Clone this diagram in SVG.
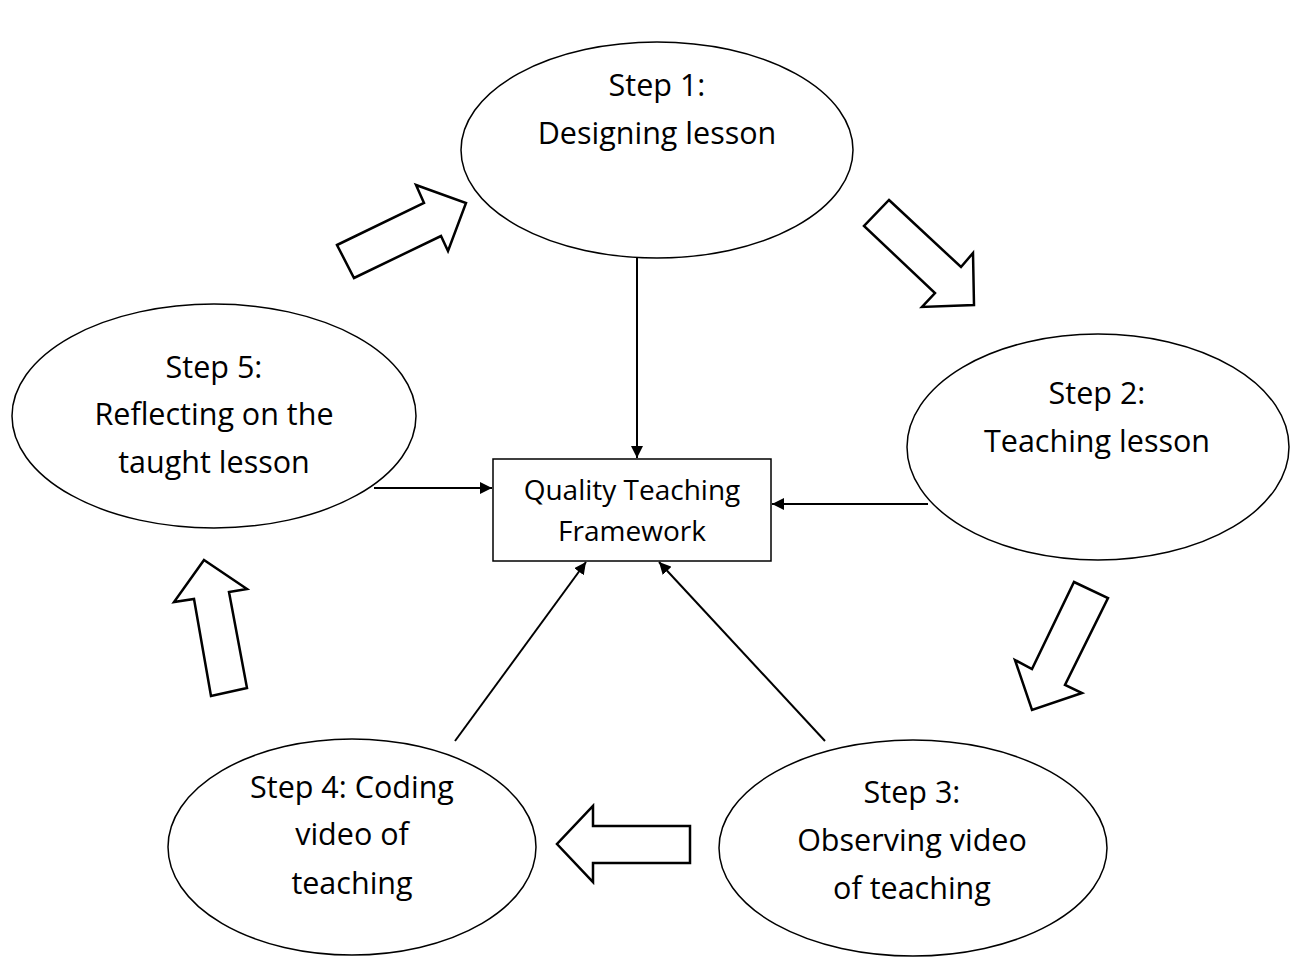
<svg xmlns="http://www.w3.org/2000/svg" width="1292" height="959" viewBox="0 0 1292 959">
  <style>
    .node { fill: #ffffff; stroke: #000000; stroke-width: 1.5; }
    .label { font-family: "Open Sans", "Liberation Sans", sans-serif; font-size: 30.5px; fill: #000000; text-anchor: middle; }
    .box-label { font-family: "Open Sans", "Liberation Sans", sans-serif; font-size: 28px; fill: #000000; text-anchor: middle; }
    .link { stroke: #000000; stroke-width: 2; fill: none; marker-end: url(#head); }
    .flow { fill: #ffffff; stroke: #000000; stroke-width: 2.5; stroke-linejoin: miter; }
  </style>
  <defs>
    <marker id="head" viewBox="0 0 10 10" refX="10" refY="5" markerWidth="6" markerHeight="6" orient="auto" markerUnits="strokeWidth">
      <path d="M0,0 L10,5 L0,10 z" fill="#000000"/>
    </marker>
  </defs>
  <rect width="1292" height="959" fill="#ffffff"/>

  <!-- connectors into the framework box -->
  <g id="connectors">
    <line class="link" x1="637" y1="258" x2="637" y2="458"/>
    <line class="link" x1="374" y1="488" x2="492" y2="488"/>
    <line class="link" x1="928" y1="504" x2="772" y2="504"/>
    <line class="link" x1="455" y1="741" x2="586" y2="562"/>
    <line class="link" x1="825" y1="741" x2="659" y2="562"/>
  </g>

  <!-- cycle block arrows between steps -->
  <g id="cycle-arrows">
    <polygon class="flow" points="337,245 424,203 416,185 466,203 448,251 441,236 354,278"/>
    <polygon class="flow" points="889,200 961,267 973,253 974,305 922,307 935,293 864,226"/>
    <polygon class="flow" points="1074,582 1108,598 1065,685 1082,693 1032,710 1015,660 1032,669"/>
    <polygon class="flow" points="690,826 690,863 593,863 593,882 557,844 593,806 593,826"/>
    <polygon class="flow" points="204,560 247,589 229,592 247,688 211,696 194,599 174,602"/>
  </g>

  <g id="step1">
    <ellipse class="node" cx="657" cy="150" rx="196" ry="108"/>
    <text class="label" x="657" y="96">Step 1:</text>
    <text class="label" x="657" y="144">Designing lesson</text>
  </g>

  <g id="step2">
    <ellipse class="node" cx="1098" cy="447" rx="191" ry="113"/>
    <text class="label" x="1097" y="404">Step 2:</text>
    <text class="label" x="1097" y="452">Teaching lesson</text>
  </g>

  <g id="step3">
    <ellipse class="node" cx="913" cy="848" rx="194" ry="108"/>
    <text class="label" x="912" y="803">Step 3:</text>
    <text class="label" x="912" y="851">Observing video</text>
    <text class="label" x="912" y="899">of teaching</text>
  </g>

  <g id="step4">
    <ellipse class="node" cx="352" cy="847" rx="184" ry="108"/>
    <text class="label" x="352" y="798">Step 4: Coding</text>
    <text class="label" x="352" y="845">video of</text>
    <text class="label" x="352" y="894">teaching</text>
  </g>

  <g id="step5">
    <ellipse class="node" cx="214" cy="416" rx="202" ry="112"/>
    <text class="label" x="214" y="378">Step 5:</text>
    <text class="label" x="214" y="425">Reflecting on the</text>
    <text class="label" x="214" y="473">taught lesson</text>
  </g>

  <g id="framework">
    <rect class="node" x="493" y="459" width="278" height="102"/>
    <text class="box-label" x="632" y="500">Quality Teaching</text>
    <text class="box-label" x="632" y="541">Framework</text>
  </g>
</svg>
